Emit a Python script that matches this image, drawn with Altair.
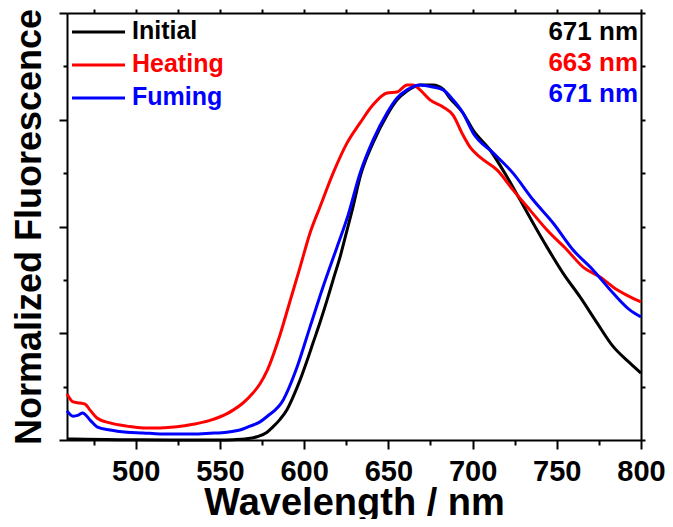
import altair as alt
import pandas as pd

series_names = ["Initial", "Heating", "Fuming"]
series_colors = ["#000000", "#ff0000", "#0000ff"]
peak_nm = [671, 663, 671]

initial_wl = [459.2, 470, 490, 520, 550, 558, 565, 572, 578, 581.5, 585.7, 589.8, 593.7, 597.6, 601.5,
              605.3, 609.4, 613.6, 617.5, 621.3, 625.2, 629.0, 633.2, 640.9, 649.2, 655.2, 661.1, 668.8,
              676.5, 682.5, 686.6, 694.3, 700.3, 710.4, 720.5, 728.2, 735.9, 744.2, 753.7, 763.8, 773.9,
              783.4, 793.5, 800]
initial_val = [0.003, 0.002, 0.001, 0.0, 0.0, 0.001, 0.003, 0.009, 0.022, 0.037, 0.058, 0.085, 0.124, 0.169, 0.22,
               0.273, 0.33, 0.393, 0.455, 0.514, 0.585, 0.655, 0.739, 0.835, 0.913, 0.956, 0.981, 0.998,
               0.998, 0.986, 0.960, 0.919, 0.871, 0.815, 0.739, 0.675, 0.610, 0.542, 0.469, 0.402, 0.329,
               0.263, 0.216, 0.188]

heating_wl = [459.2, 462.8, 466.9, 469.9, 472.9, 477.0, 484.7, 494.8, 504.3, 514.4, 524.5, 534.0, 544.1,
              554.2, 557.8, 563.7, 569.6, 573.8, 578.0, 585.7, 591.6, 597.6, 603.5, 609.4, 617.2, 625.5,
              633.2, 640.9, 649.2, 655.2, 661.1, 664.6, 668.8, 674.7, 682.5, 688.4, 694.3, 698.5, 704.4,
              714.5, 724.0, 734.1, 744.2, 756.1, 765.6, 775.7, 785.8, 793.5, 800]
heating_val = [0.129, 0.107, 0.104, 0.101, 0.084, 0.062, 0.048, 0.039, 0.034, 0.034, 0.037, 0.044, 0.055,
               0.074, 0.084, 0.104, 0.132, 0.158, 0.195, 0.296, 0.390, 0.486, 0.582, 0.655, 0.750, 0.835,
               0.891, 0.942, 0.975, 0.978, 0.998, 0.998, 0.984, 0.956, 0.936, 0.913, 0.857, 0.823, 0.795,
               0.759, 0.703, 0.646, 0.590, 0.534, 0.486, 0.458, 0.422, 0.402, 0.388]

fuming_wl = [459.2, 462.8, 466.0, 468.5, 472.9, 477.0, 484.7, 494.8, 504.3, 514.4, 534.0, 544.1, 554.2,
             563.7, 567.9, 573.8, 578.0, 587.5, 595.8, 603.5, 611.2, 619.5, 626.1, 633.2, 640.9, 649.2,
             655.2, 661.1, 668.8, 676.5, 682.5, 688.4, 694.3, 700.3, 712.2, 724.0, 735.9, 747.8, 759.7,
             771.5, 783.4, 793.5, 800]
fuming_val = [0.082, 0.067, 0.070, 0.076, 0.056, 0.037, 0.028, 0.022, 0.020, 0.017, 0.017, 0.019, 0.022,
              0.031, 0.039, 0.051, 0.066, 0.112, 0.205, 0.318, 0.430, 0.542, 0.632, 0.750, 0.843, 0.919,
              0.961, 0.984, 0.998, 0.992, 0.984, 0.956, 0.919, 0.863, 0.807, 0.750, 0.675, 0.610, 0.534,
              0.478, 0.413, 0.365, 0.346]

x_ticks = list(range(475, 801, 25))
y_ticks = [round(i * 0.15, 2) for i in range(9)]

rows = []
for name, wl, val in [("Initial", initial_wl, initial_val),
                      ("Heating", heating_wl, heating_val),
                      ("Fuming", fuming_wl, fuming_val)]:
    for w, v in zip(wl, val):
        rows.append({"wl": w, "val": v, "series": name})
df = pd.DataFrame(rows)

FONT = "Liberation Sans"
W, H = 574, 427

xscale = alt.Scale(domain=[459.2, 800], nice=False, zero=False)
yscale = alt.Scale(domain=[0, 1.2], nice=False, zero=False)

common = dict(domainColor="black", domainWidth=2, tickColor="black", tickWidth=2, grid=False)

bottom_axis = alt.Axis(
    orient="bottom", values=x_ticks,
    labelExpr="datum.value % 50 == 0 ? datum.label : ''",
    tickSize={"condition": {"test": "datum.value % 50 == 0", "value": 9}, "value": 5},
    labelFont=FONT, labelFontSize=29, labelFontWeight="bold", labelColor="black",
    labelPadding=8, labelFlush=False, labelOverlap=False,
    title="Wavelength / nm", titleFont=FONT, titleFontSize=38, titleFontWeight="bold",
    titleColor="black", titleX=W / 2, titleY=74, titleBaseline="alphabetic", titleAlign="center",
    **common)
left_axis = alt.Axis(
    orient="left", values=y_ticks, labels=False,
    tickSize={"condition": {"test": "round(datum.value * 100) % 30 == 0", "value": 8}, "value": 4},
    title="Normalized Fluorescence", titleFont=FONT, titleFontSize=36, titleFontWeight="bold",
    titleColor="black", titleX=-27, titleY=H / 2, titleAngle=-90, titleBaseline="alphabetic",
    titleAlign="center", **common)
top_axis = alt.Axis(orient="top", values=x_ticks, labels=False, tickSize=4, title=None, **common)
right_axis = alt.Axis(orient="right", values=y_ticks, labels=False, tickSize=4, title=None, **common)

layers = []
for i, (name, col) in enumerate(zip(series_names, series_colors)):
    layers.append(
        alt.Chart(df).transform_filter(alt.datum.series == name).mark_line(
            color=col, strokeWidth=3, interpolate="monotone").encode(
            x=alt.X("wl:Q", scale=xscale, axis=bottom_axis if i == 0 else None),
            y=alt.Y("val:Q", scale=yscale, axis=left_axis if i == 0 else None),
            order="wl:Q")
    )

mirror = alt.Chart(df).mark_line(strokeOpacity=0).encode(
    x=alt.X("wl:Q", scale=xscale, axis=top_axis),
    y=alt.Y("val:Q", scale=yscale, axis=right_axis))
layers.append(mirror)

label_df = pd.DataFrame({"series": series_names, "color": series_colors,
                         "peak": [f"{p} nm" for p in peak_nm]})
for i, (name, col) in enumerate(zip(series_names, series_colors)):
    d = label_df[label_df.series == name]
    layers.append(alt.Chart(d).mark_rule(color=col, strokeWidth=3).encode(
        x=alt.value(5), x2=alt.value(58), y=alt.value(19 + 33 * i)))
    layers.append(alt.Chart(d).mark_text(
        align="left", baseline="alphabetic", font=FONT, fontSize=25, fontWeight="bold",
        color=col).encode(x=alt.value(65), y=alt.value(26 + 33 * i), text="series:N"))
    layers.append(alt.Chart(d).mark_text(
        align="right", baseline="alphabetic", font=FONT, fontSize=26, fontWeight="bold",
        color=col).encode(x=alt.value(571), y=alt.value(27 + 31 * i), text="peak:N"))

chart = alt.layer(*layers).resolve_axis(x="independent", y="independent").properties(
    width=W, height=H,
    autosize=alt.AutoSizeParams(type="none"),
    padding={"left": 59, "top": 5, "right": 24, "bottom": 79},
).configure_view(stroke=None)

chart.save("out.html", embed_options={"renderer": "svg", "actions": False})
